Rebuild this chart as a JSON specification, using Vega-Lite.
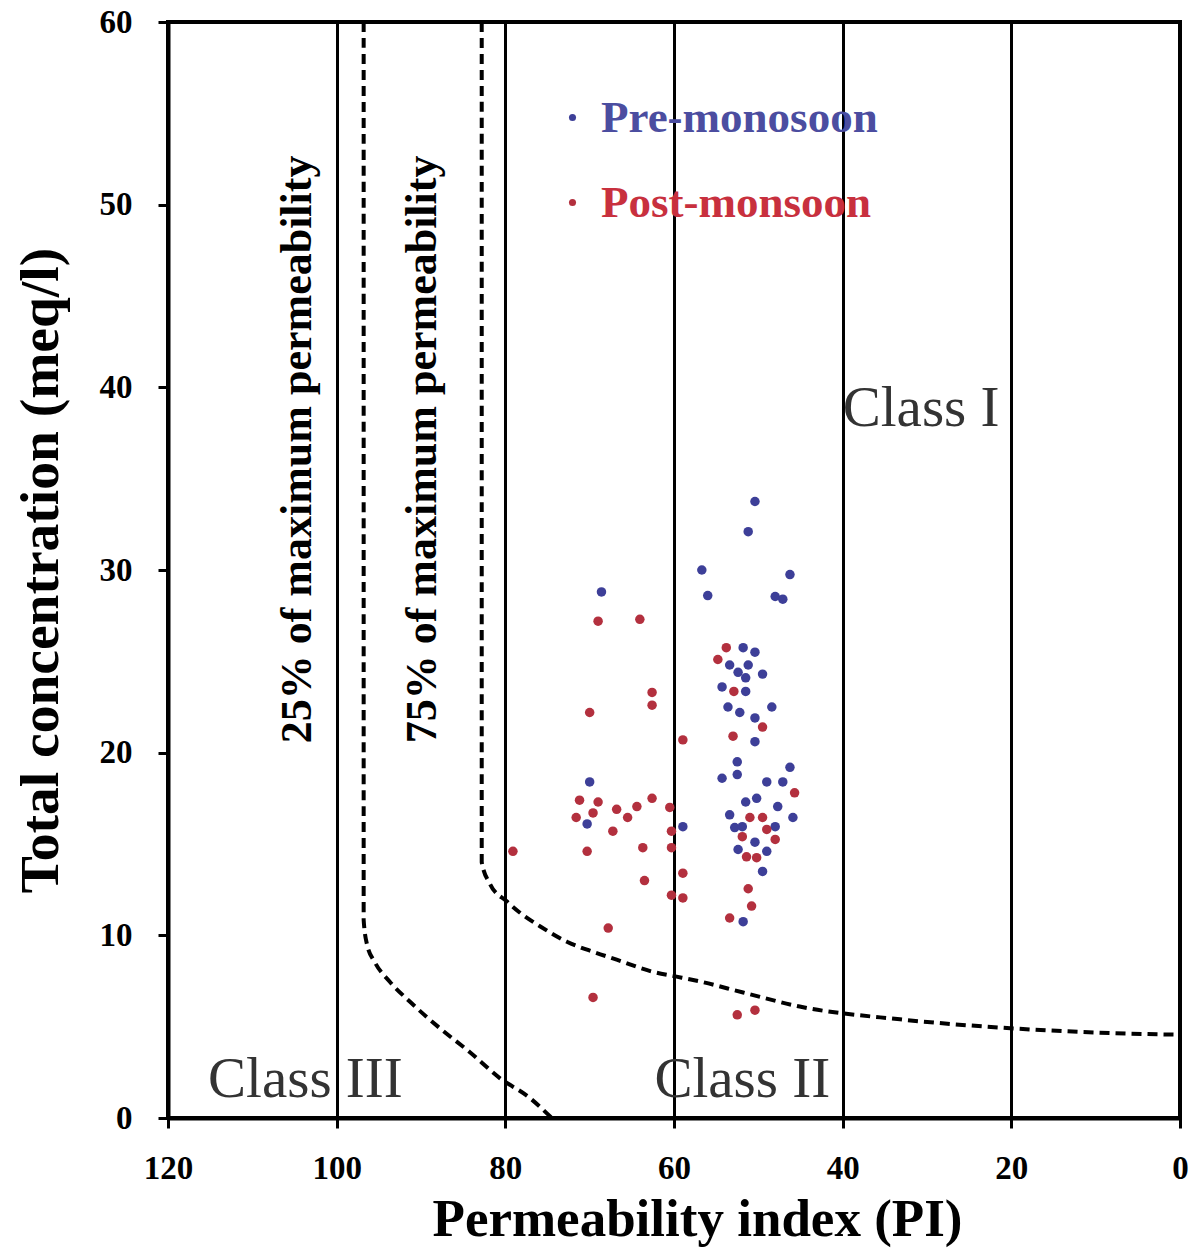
{
  "$schema": "https://vega.github.io/schema/vega-lite/v6.json",
  "width": 1012,
  "height": 1096,
  "autosize": "none",
  "padding": {"left": 168, "top": 22, "right": 13, "bottom": 140},
  "background": "white",
  "config": {
    "view": {"stroke": "black", "strokeWidth": 4},
    "font": "Liberation Serif"
  },
  "datasets": {
    "pts": [
      {"PI": 50.4, "TC": 33.75, "season": "Pre-monosoon"},
      {"PI": 51.2, "TC": 32.1, "season": "Pre-monosoon"},
      {"PI": 56.7, "TC": 30.0, "season": "Pre-monosoon"},
      {"PI": 56.0, "TC": 28.6, "season": "Pre-monosoon"},
      {"PI": 46.25, "TC": 29.75, "season": "Pre-monosoon"},
      {"PI": 48.0, "TC": 28.55, "season": "Pre-monosoon"},
      {"PI": 47.1, "TC": 28.4, "season": "Pre-monosoon"},
      {"PI": 68.6, "TC": 28.8, "season": "Pre-monosoon"},
      {"PI": 51.8, "TC": 25.75, "season": "Pre-monosoon"},
      {"PI": 50.4, "TC": 25.5, "season": "Pre-monosoon"},
      {"PI": 53.4, "TC": 24.8, "season": "Pre-monosoon"},
      {"PI": 51.2, "TC": 24.8, "season": "Pre-monosoon"},
      {"PI": 52.4, "TC": 24.4, "season": "Pre-monosoon"},
      {"PI": 51.5, "TC": 24.1, "season": "Pre-monosoon"},
      {"PI": 49.5, "TC": 24.3, "season": "Pre-monosoon"},
      {"PI": 54.3, "TC": 23.6, "season": "Pre-monosoon"},
      {"PI": 51.5, "TC": 23.35, "season": "Pre-monosoon"},
      {"PI": 53.6, "TC": 22.5, "season": "Pre-monosoon"},
      {"PI": 52.2, "TC": 22.2, "season": "Pre-monosoon"},
      {"PI": 48.4, "TC": 22.5, "season": "Pre-monosoon"},
      {"PI": 50.4, "TC": 21.9, "season": "Pre-monosoon"},
      {"PI": 50.4, "TC": 20.6, "season": "Pre-monosoon"},
      {"PI": 52.5, "TC": 19.5, "season": "Pre-monosoon"},
      {"PI": 52.5, "TC": 18.8, "season": "Pre-monosoon"},
      {"PI": 54.3, "TC": 18.6, "season": "Pre-monosoon"},
      {"PI": 46.25, "TC": 19.2, "season": "Pre-monosoon"},
      {"PI": 49.0, "TC": 18.4, "season": "Pre-monosoon"},
      {"PI": 47.1, "TC": 18.4, "season": "Pre-monosoon"},
      {"PI": 51.5, "TC": 17.3, "season": "Pre-monosoon"},
      {"PI": 50.2, "TC": 17.5, "season": "Pre-monosoon"},
      {"PI": 47.7, "TC": 17.05, "season": "Pre-monosoon"},
      {"PI": 53.4, "TC": 16.6, "season": "Pre-monosoon"},
      {"PI": 45.9, "TC": 16.45, "season": "Pre-monosoon"},
      {"PI": 52.8, "TC": 15.9, "season": "Pre-monosoon"},
      {"PI": 51.9, "TC": 15.95, "season": "Pre-monosoon"},
      {"PI": 48.0, "TC": 15.95, "season": "Pre-monosoon"},
      {"PI": 50.4, "TC": 15.1, "season": "Pre-monosoon"},
      {"PI": 52.4, "TC": 14.7, "season": "Pre-monosoon"},
      {"PI": 49.0, "TC": 14.6, "season": "Pre-monosoon"},
      {"PI": 49.5, "TC": 13.5, "season": "Pre-monosoon"},
      {"PI": 51.8, "TC": 10.75, "season": "Pre-monosoon"},
      {"PI": 70.0, "TC": 18.4, "season": "Pre-monosoon"},
      {"PI": 70.3, "TC": 16.1, "season": "Pre-monosoon"},
      {"PI": 58.95, "TC": 15.95, "season": "Pre-monosoon"},
      {"PI": 69.0, "TC": 27.2, "season": "Post-monsoon"},
      {"PI": 64.05, "TC": 27.3, "season": "Post-monsoon"},
      {"PI": 62.6, "TC": 23.3, "season": "Post-monsoon"},
      {"PI": 62.6, "TC": 22.6, "season": "Post-monsoon"},
      {"PI": 70.0, "TC": 22.2, "season": "Post-monsoon"},
      {"PI": 58.95, "TC": 20.7, "season": "Post-monsoon"},
      {"PI": 53.8, "TC": 25.75, "season": "Post-monsoon"},
      {"PI": 54.8, "TC": 25.1, "season": "Post-monsoon"},
      {"PI": 52.9, "TC": 23.35, "season": "Post-monsoon"},
      {"PI": 53.0, "TC": 20.9, "season": "Post-monsoon"},
      {"PI": 49.5, "TC": 21.4, "season": "Post-monsoon"},
      {"PI": 45.7, "TC": 17.8, "season": "Post-monsoon"},
      {"PI": 51.0, "TC": 16.45, "season": "Post-monsoon"},
      {"PI": 49.5, "TC": 16.45, "season": "Post-monsoon"},
      {"PI": 51.9, "TC": 15.4, "season": "Post-monsoon"},
      {"PI": 49.0, "TC": 15.8, "season": "Post-monsoon"},
      {"PI": 48.0, "TC": 15.25, "season": "Post-monsoon"},
      {"PI": 51.4, "TC": 14.3, "season": "Post-monsoon"},
      {"PI": 50.2, "TC": 14.25, "season": "Post-monsoon"},
      {"PI": 51.2, "TC": 12.55, "season": "Post-monsoon"},
      {"PI": 50.8, "TC": 11.6, "season": "Post-monsoon"},
      {"PI": 53.4, "TC": 10.95, "season": "Post-monsoon"},
      {"PI": 52.5, "TC": 5.65, "season": "Post-monsoon"},
      {"PI": 50.4, "TC": 5.9, "season": "Post-monsoon"},
      {"PI": 60.5, "TC": 17.0, "season": "Post-monsoon"},
      {"PI": 60.3, "TC": 15.7, "season": "Post-monsoon"},
      {"PI": 60.3, "TC": 14.8, "season": "Post-monsoon"},
      {"PI": 58.95, "TC": 13.4, "season": "Post-monsoon"},
      {"PI": 60.3, "TC": 12.2, "season": "Post-monsoon"},
      {"PI": 58.95, "TC": 12.05, "season": "Post-monsoon"},
      {"PI": 62.6, "TC": 17.5, "season": "Post-monsoon"},
      {"PI": 71.2, "TC": 17.4, "season": "Post-monsoon"},
      {"PI": 69.0, "TC": 17.3, "season": "Post-monsoon"},
      {"PI": 69.6, "TC": 16.7, "season": "Post-monsoon"},
      {"PI": 66.8, "TC": 16.9, "season": "Post-monsoon"},
      {"PI": 64.4, "TC": 17.05, "season": "Post-monsoon"},
      {"PI": 65.5, "TC": 16.45, "season": "Post-monsoon"},
      {"PI": 71.6, "TC": 16.45, "season": "Post-monsoon"},
      {"PI": 67.25, "TC": 15.7, "season": "Post-monsoon"},
      {"PI": 79.1, "TC": 14.6, "season": "Post-monsoon"},
      {"PI": 70.3, "TC": 14.6, "season": "Post-monsoon"},
      {"PI": 63.7, "TC": 14.8, "season": "Post-monsoon"},
      {"PI": 63.5, "TC": 13.0, "season": "Post-monsoon"},
      {"PI": 67.8, "TC": 10.4, "season": "Post-monsoon"},
      {"PI": 69.6, "TC": 6.6, "season": "Post-monsoon"}
    ],
    "curves": [
      {"curve": "25%", "i": 1, "PI": 96.8, "TC": 60},
      {"curve": "25%", "i": 2, "PI": 96.8, "TC": 10.85},
      {"curve": "25%", "i": 3, "PI": 96.4, "TC": 9.5},
      {"curve": "25%", "i": 4, "PI": 95.5, "TC": 8.55},
      {"curve": "25%", "i": 5, "PI": 93.7, "TC": 7.46},
      {"curve": "25%", "i": 6, "PI": 91.3, "TC": 6.36},
      {"curve": "25%", "i": 7, "PI": 87.8, "TC": 4.93},
      {"curve": "25%", "i": 8, "PI": 84.2, "TC": 3.6},
      {"curve": "25%", "i": 9, "PI": 80.7, "TC": 2.2},
      {"curve": "25%", "i": 10, "PI": 77.1, "TC": 1.1},
      {"curve": "25%", "i": 11, "PI": 74.5, "TC": 0},
      {"curve": "75%", "i": 1, "PI": 82.8, "TC": 60},
      {"curve": "75%", "i": 2, "PI": 82.8, "TC": 14.0},
      {"curve": "75%", "i": 3, "PI": 81.8, "TC": 12.8},
      {"curve": "75%", "i": 4, "PI": 79.8, "TC": 11.85},
      {"curve": "75%", "i": 5, "PI": 78.3, "TC": 11.25},
      {"curve": "75%", "i": 6, "PI": 75.9, "TC": 10.5},
      {"curve": "75%", "i": 7, "PI": 72.7, "TC": 9.65},
      {"curve": "75%", "i": 8, "PI": 69.6, "TC": 9.1},
      {"curve": "75%", "i": 9, "PI": 66.8, "TC": 8.67},
      {"curve": "75%", "i": 10, "PI": 62.5, "TC": 8.0},
      {"curve": "75%", "i": 11, "PI": 59.7, "TC": 7.74},
      {"curve": "75%", "i": 12, "PI": 56.9, "TC": 7.47},
      {"curve": "75%", "i": 13, "PI": 51.8, "TC": 6.87},
      {"curve": "75%", "i": 14, "PI": 45.1, "TC": 6.1},
      {"curve": "75%", "i": 15, "PI": 33.2, "TC": 5.4},
      {"curve": "75%", "i": 16, "PI": 21.35, "TC": 4.95},
      {"curve": "75%", "i": 17, "PI": 9.5, "TC": 4.67},
      {"curve": "75%", "i": 18, "PI": 0, "TC": 4.56}
    ],
    "classes": [
      {"PI": 103.7, "TC": 2.1, "label": "Class III"},
      {"PI": 51.9, "TC": 2.1, "label": "Class II"},
      {"PI": 30.7, "TC": 38.8, "label": "Class I"}
    ],
    "vtext": [
      {"PI": 104.6, "TC": 36.6, "label": "25% of maximum permeability"},
      {"PI": 89.8, "TC": 36.6, "label": "75% of maximum permeability"}
    ]
  },
  "encoding": {
    "x": {
      "field": "PI", "type": "quantitative",
      "scale": {"domain": [0, 120], "reverse": true, "nice": false, "zero": false},
      "axis": {
        "values": [0, 20, 40, 60, 80, 100, 120],
        "format": "d",
        "title": "Permeability index (PI)",
        "titleFont": "Liberation Serif", "titleFontSize": 53, "titleFontWeight": "bold", "titleColor": "black",
        "titleX": 529, "titleY": 117, "titleBaseline": "alphabetic",
        "labelFont": "Liberation Serif", "labelFontSize": 33, "labelFontWeight": "bold", "labelColor": "black",
        "labelPadding": 24, "labelFlush": false,
        "tickColor": "black", "tickWidth": 3, "tickSize": 10,
        "domainColor": "black", "domainWidth": 4,
        "grid": true, "gridColor": "black", "gridWidth": 3, "gridOpacity": 1
      }
    },
    "y": {
      "field": "TC", "type": "quantitative",
      "scale": {"domain": [0, 60], "nice": false, "zero": false},
      "axis": {
        "values": [0, 10, 20, 30, 40, 50, 60],
        "title": "Total concentration (meq/l)",
        "titleFont": "Liberation Serif", "titleFontSize": 55.5, "titleFontWeight": "bold", "titleColor": "black",
        "titleX": -128, "titleY": 548, "titleAngle": 270, "titleBaseline": "middle", "titleAlign": "center",
        "labelFont": "Liberation Serif", "labelFontSize": 33, "labelFontWeight": "bold", "labelColor": "black",
        "labelPadding": 26, "labelFlush": false,
        "tickColor": "black", "tickWidth": 3, "tickSize": 10,
        "domainColor": "black", "domainWidth": 4,
        "grid": false
      }
    }
  },
  "layer": [
    {
      "data": {"name": "curves"},
      "mark": {"type": "line", "color": "black", "strokeWidth": 4, "strokeDash": [10, 6], "interpolate": "monotone"},
      "encoding": {
        "detail": {"field": "curve"},
        "order": {"field": "i", "type": "quantitative"}
      }
    },
    {
      "data": {"name": "pts"},
      "mark": {"type": "circle", "size": 90, "opacity": 1},
      "encoding": {
        "color": {
          "field": "season", "type": "nominal",
          "scale": {"domain": ["Pre-monosoon", "Post-monsoon"], "range": ["#3d3f98", "#b3303e"]},
          "legend": {
            "orient": "none", "legendX": 382, "legendY": 73, "title": null, "padding": 0,
            "symbolType": "circle", "symbolSize": 50, "labelOffset": 6, "labelLimit": 0,
            "labelFont": "Liberation Serif", "labelFontSize": 45, "labelFontWeight": "bold",
            "rowPadding": 39,
            "labelColor": {"expr": "datum.value === 'Pre-monosoon' ? '#4b4da0' : '#c8303e'"}
          }
        }
      }
    },
    {
      "data": {"name": "classes"},
      "mark": {"type": "text", "font": "Liberation Serif", "fontSize": 57, "color": "#333333", "align": "center", "baseline": "middle"},
      "encoding": {"text": {"field": "label"}}
    },
    {
      "data": {"name": "vtext"},
      "mark": {"type": "text", "font": "Liberation Serif", "fontSize": 44, "fontWeight": "bold", "color": "black", "align": "center", "baseline": "middle", "angle": 270},
      "encoding": {"text": {"field": "label"}}
    }
  ]
}
